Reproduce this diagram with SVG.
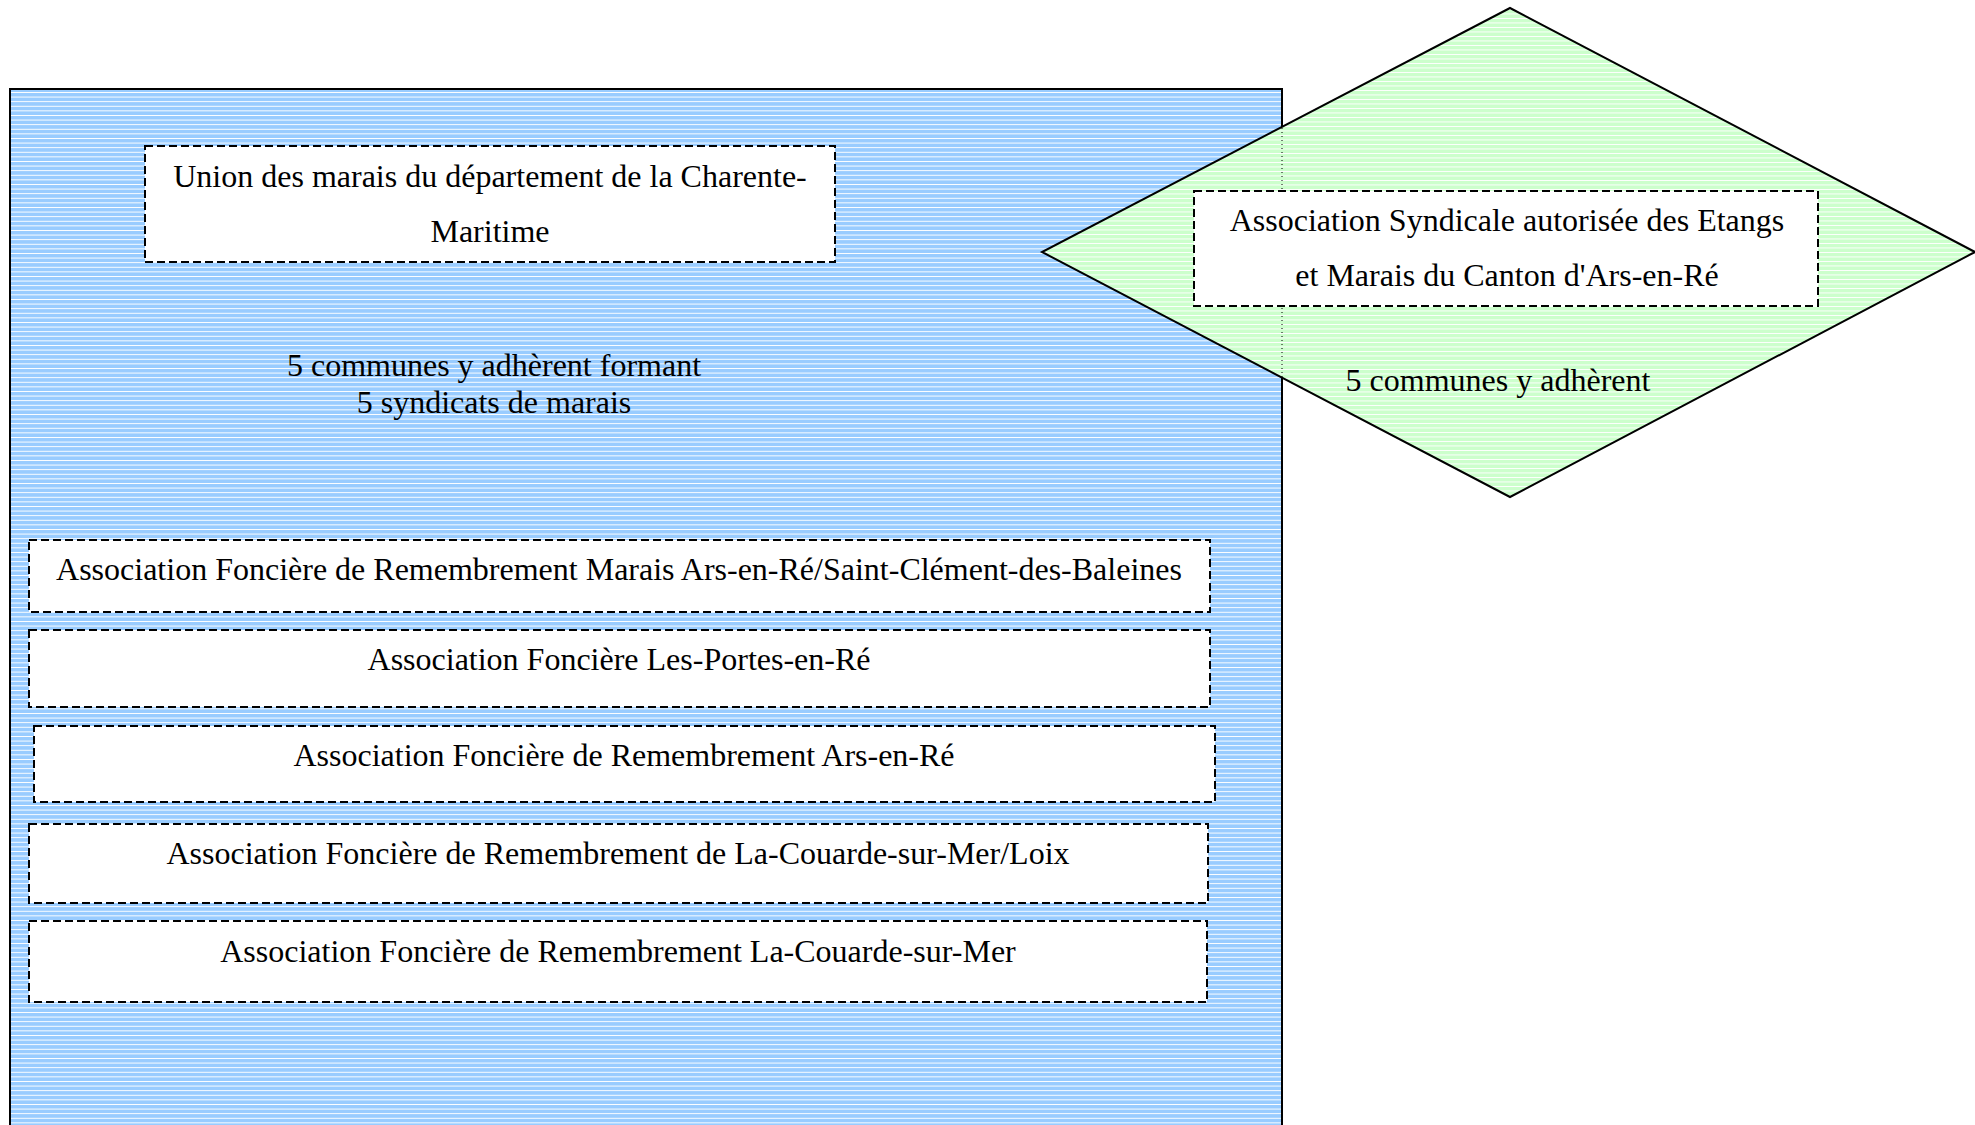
<svg xmlns="http://www.w3.org/2000/svg" width="1975" height="1125" viewBox="0 0 1975 1125">
<style>
text { font-family: "Liberation Serif", "Times New Roman", serif; font-size: 32px; fill: #000; text-anchor: middle; }
.box { fill: #fff; stroke: #000; stroke-width: 2; stroke-dasharray: 8 4; }
.crisp { shape-rendering: crispEdges; }
</style>
<defs>
<pattern id="blueStripes" patternUnits="userSpaceOnUse" x="0" y="0" width="20" height="4.6">
<rect class="crisp" x="0" y="0" width="20" height="4.6" fill="#99CCFF"/>
<rect class="crisp" x="0" y="0" width="20" height="1" fill="#ffffff"/>
</pattern>
<pattern id="greenStripes" patternUnits="userSpaceOnUse" x="0" y="0" width="20" height="4.5">
<rect class="crisp" x="0" y="0" width="20" height="4.5" fill="#CCFFCC"/>
<rect class="crisp" x="0" y="0" width="20" height="1" fill="#ffffff"/>
</pattern>
</defs>
<rect width="1975" height="1125" fill="#fff"/>

<g id="union-container">
<rect x="10" y="89" width="1272" height="1060" fill="url(#blueStripes)" stroke="#000" stroke-width="2"/>
</g>

<g id="asa-diamond">
<polygon points="1510,8 1975,252 1510,497 1042,252" fill="url(#greenStripes)" stroke="#000" stroke-width="2"/>
<line x1="1282" y1="128" x2="1282" y2="377" stroke="#000" stroke-width="1" stroke-dasharray="1 3"/>
</g>

<g id="union-title">
<rect class="box" x="145" y="146" width="690" height="116"/>
<text x="490" y="187">Union des marais du département de la Charente-</text>
<text x="490" y="242">Maritime</text>
</g>

<g id="union-members">
<text x="494" y="376">5 communes y adhèrent formant</text>
<text x="494" y="413">5 syndicats de marais</text>
</g>

<g id="asa-title">
<rect class="box" x="1194" y="191" width="624" height="115"/>
<text x="1507" y="231">Association Syndicale autorisée des Etangs</text>
<text x="1507" y="286">et Marais du Canton d'Ars-en-Ré</text>
</g>

<g id="asa-members">
<text x="1498" y="391">5 communes y adhèrent</text>
</g>

<g id="afr-marais">
<rect class="box" x="29" y="540" width="1181" height="72"/>
<text x="619" y="580">Association Foncière de Remembrement Marais Ars-en-Ré/Saint-Clément-des-Baleines</text>
</g>

<g id="af-portes">
<rect class="box" x="29" y="630" width="1181" height="77"/>
<text x="619" y="670">Association Foncière Les-Portes-en-Ré</text>
</g>

<g id="afr-ars">
<rect class="box" x="34" y="726" width="1181" height="76"/>
<text x="624" y="766">Association Foncière de Remembrement Ars-en-Ré</text>
</g>

<g id="afr-couarde-loix">
<rect class="box" x="29" y="824" width="1179" height="79"/>
<text x="618" y="864">Association Foncière de Remembrement de La-Couarde-sur-Mer/Loix</text>
</g>

<g id="afr-couarde">
<rect class="box" x="29" y="921" width="1178" height="81"/>
<text x="618" y="962">Association Foncière de Remembrement La-Couarde-sur-Mer</text>
</g>

<g id="connectors"></g>
</svg>
